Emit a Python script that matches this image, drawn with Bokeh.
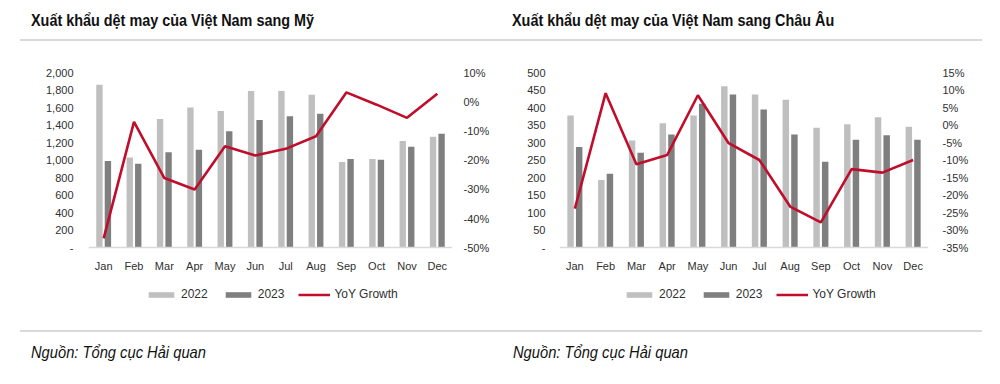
from bokeh.plotting import figure
from bokeh.models import (ColumnDataSource, Range1d, LinearAxis, Legend, LegendItem, Div,
                          CustomJSTickFormatter, FixedTicker)
from bokeh.layouts import row, column
from bokeh.transform import dodge
from bokeh.embed import file_html
from bokeh.resources import INLINE

months = ["Jan", "Feb", "Mar", "Apr", "May", "Jun", "Jul", "Aug", "Sep", "Oct", "Nov", "Dec"]

us_2022 = [1860, 1030, 1470, 1600, 1560, 1790, 1790, 1745, 980, 1015, 1218, 1267]
us_2023 = [990, 960, 1090, 1120, 1330, 1460, 1500, 1530, 1015, 1005, 1154, 1301]
us_yoy = [-46.7, -6.9, -26.1, -30.0, -15.2, -18.4, -16.1, -11.8, 3.2, -1.0, -5.5, 2.7]

eu_2022 = [377, 193, 306, 355, 377, 461, 437, 422, 342, 352, 372, 345]
eu_2023 = [287, 211, 271, 323, 411, 437, 394, 323, 245, 308, 321, 308]
eu_yoy = [-23.9, 9.1, -11.2, -8.6, 8.5, -5.2, -10.0, -23.3, -27.8, -12.6, -13.6, -10.0]

us_left_ticks = list(range(0, 2001, 200))
us_right_ticks = list(range(-50, 11, 10))
eu_left_ticks = list(range(0, 501, 50))
eu_right_ticks = list(range(-35, 16, 5))

title_us = "Xuất khẩu dệt may của Việt Nam sang Mỹ"
title_eu = "Xuất khẩu dệt may của Việt Nam sang Châu Âu"
source_text = "Nguồn: Tổng cục Hải quan"
series_names = ["2022", "2023", "YoY Growth"]

FONT = "Liberation Sans"
LIGHT = "#bfbfbf"
DARK = "#7f7f7f"
RED = "#c00d2b"
TXT = "#303030"
SEP = "#d9d9d9"

FIG_H = 280
BOTTOM_BORDER = 26


def style_axis(ax, standoff):
    ax.major_tick_line_color = None
    ax.minor_tick_line_color = None
    ax.major_tick_out = 0
    ax.major_tick_in = 0
    ax.minor_tick_out = 0
    ax.minor_tick_in = 0
    ax.major_label_standoff = standoff
    ax.major_label_text_font = FONT
    ax.major_label_text_font_size = "11px"
    ax.major_label_text_color = TXT


def make_chart(v22, v23, yoy, lticks, rticks, borders, stand, zero_px, legend_x):
    # zero_px: pixel distance from the frame top down to the value-0 baseline
    src = ColumnDataSource(dict(month=months, v2022=v22, v2023=v23, yoy=yoy))
    bl, br, bt = borders
    frame_h = FIG_H - bt - BOTTOM_BORDER
    below = frame_h - zero_px
    l_top, r_top, r_zero = lticks[-1], rticks[-1], rticks[0]
    l_bottom = -l_top * below / zero_px
    r_bottom = r_zero - (r_top - r_zero) * below / zero_px
    p = figure(width=500, height=FIG_H, x_range=months,
               y_range=Range1d(l_bottom, l_top),
               output_backend="svg", toolbar_location=None,
               min_border_left=bl, min_border_right=br,
               min_border_top=bt, min_border_bottom=BOTTOM_BORDER)
    p.extra_y_ranges = {"pct": Range1d(r_bottom, r_top)}
    p.outline_line_color = None
    p.xgrid.visible = False
    p.ygrid.visible = False

    r1 = p.vbar(x=dodge("month", -0.14, range=p.x_range), top="v2022", width=0.21,
                source=src, fill_color=LIGHT, line_color=None)
    r2 = p.vbar(x=dodge("month", 0.14, range=p.x_range), top="v2023", width=0.21,
                source=src, fill_color=DARK, line_color=None)
    r3 = p.line(x="month", y="yoy", source=src, y_range_name="pct",
                line_color=RED, line_width=2.6)

    xa = p.xaxis[0]
    style_axis(xa, 12)
    xa.fixed_location = 0
    xa.axis_line_color = SEP
    xa.axis_line_width = 1.5

    ya = p.yaxis[0]
    ya.ticker = FixedTicker(ticks=lticks)
    ya.formatter = CustomJSTickFormatter(
        code="return tick == 0 ? '-' : tick.toLocaleString('en-US');")
    ya.axis_line_color = None
    style_axis(ya, stand[0])

    ra = LinearAxis(y_range_name="pct", ticker=FixedTicker(ticks=rticks),
                    formatter=CustomJSTickFormatter(code="return tick + '%';"))
    ra.axis_line_color = None
    style_axis(ra, stand[1])
    p.add_layout(ra, "right")

    legend = Legend(items=[LegendItem(label=series_names[0], renderers=[r1]),
                           LegendItem(label=series_names[1], renderers=[r2]),
                           LegendItem(label=series_names[2], renderers=[r3])],
                    orientation="horizontal", location=(legend_x, 1),
                    glyph_width=32, glyph_height=7, label_standoff=4, spacing=14,
                    padding=0, margin=0, border_line_color=None,
                    background_fill_alpha=0, label_text_font=FONT,
                    label_text_font_size="12px", label_text_color=TXT,
                    label_height=12)
    p.add_layout(legend)
    return p


p1 = make_chart(us_2022, us_2023, us_yoy, us_left_ticks, us_right_ticks,
                (88, 48, 22), (15, 11), 177, 57)
p2 = make_chart(eu_2022, eu_2023, eu_yoy, eu_left_ticks, eu_right_ticks,
                (59, 72, 24), (14, 14), 175, 64)


def span_css(scale):
    return ("position:absolute;white-space:nowrap;display:inline-block;"
            f"transform:scaleX({scale});transform-origin:0 50%;"
            "font-family:'Liberation Sans',Arial,sans-serif;color:#111;")


def header_html(t1, t2):
    return (f'<div style="position:relative;width:1000px;height:48px;margin:0;padding:0;">'
            f'<span style="{span_css(0.9)}left:31px;top:12px;font-size:16px;line-height:18px;font-weight:bold;">{t1}</span>'
            f'<span style="{span_css(0.9)}left:512px;top:12px;font-size:16px;line-height:18px;font-weight:bold;">{t2}</span>'
            f'<div style="position:absolute;left:20px;top:39px;width:962px;height:2px;background:{SEP};"></div>'
            f'</div>')


def footer_html(t):
    return (f'<div style="position:relative;width:1000px;height:56px;margin:0;padding:0;">'
            f'<div style="position:absolute;left:20px;top:2px;width:962px;height:2px;background:{SEP};"></div>'
            f'<span style="{span_css(0.865)}left:31px;top:15px;font-size:17px;line-height:20px;font-style:italic;">{t}</span>'
            f'<span style="{span_css(0.865)}left:513px;top:15px;font-size:17px;line-height:20px;font-style:italic;">{t}</span>'
            f'</div>')


top = Div(text=header_html(title_us, title_eu), width=1000, height=48,
          styles={"margin": "0", "padding": "0"})
bottom = Div(text=footer_html(source_text), width=1000, height=56,
             styles={"margin": "0", "padding": "0"})

layout = column(top, row(p1, p2), bottom)
open("out.html", "w").write(file_html(layout, INLINE))
